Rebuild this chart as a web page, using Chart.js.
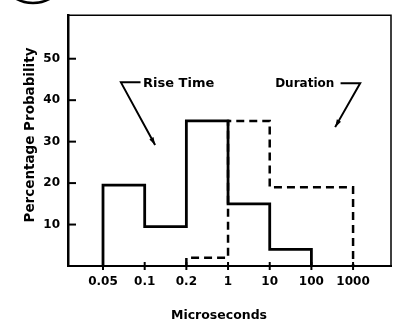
<!DOCTYPE html>
<html>
<head>
<meta charset="utf-8">
<script src="https://cdn.jsdelivr.net/npm/chart.js@4/dist/chart.umd.min.js"></script>
<style>
html,body{margin:0;padding:0;background:#fff;}
#wrap{width:399px;height:332px;position:relative;}
</style>
</head>
<body>
<div id="wrap"><canvas id="c" width="399" height="332"></canvas></div>
<script>
// Categories (equally spaced on the x axis)
const tickLabels = ["0.05", "0.1", "0.2", "1", "10", "100", "1000"];
// Rise Time histogram: bin edges (category index) and percentage
const riseEdges = [0, 0, 1, 2, 3, 4, 5];
const riseValues = [0, 19.5, 9.5, 35, 15, 4, 0];
// Duration histogram
const durEdges = [2, 2, 3, 4, 6];
const durValues = [0, 2, 35, 19, 0];
const yTicks = [10, 20, 30, 40, 50];

const FONT = "'DejaVu Sans', sans-serif";

const toPts = (xs, ys) => xs.map((x, i) => ({x: x, y: ys[i]}));

const decor = {
  id: 'decor',
  afterDraw(chart) {
    const ctx = chart.ctx, a = chart.chartArea;
    const xs = chart.scales.x, ys = chart.scales.y;
    ctx.save();
    ctx.strokeStyle = '#000';
    ctx.fillStyle = '#000';
    // frame top & right
    ctx.lineWidth = 1.5;
    ctx.beginPath();
    ctx.moveTo(a.left, a.top);
    ctx.lineTo(a.right, a.top);
    ctx.lineTo(a.right, a.bottom);
    ctx.stroke();
    // y ticks (inward)
    ctx.lineWidth = 2;
    yTicks.forEach(v => {
      const py = ys.getPixelForValue(v);
      ctx.beginPath(); ctx.moveTo(a.left, py); ctx.lineTo(a.left + 8, py); ctx.stroke();
    });
    // x ticks (crossing)
    tickLabels.forEach((l, i) => {
      const px = xs.getPixelForValue(i);
      ctx.beginPath(); ctx.moveTo(px, a.bottom - 4); ctx.lineTo(px, a.bottom + 4); ctx.stroke();
    });
    // annotations
    const P = (x, y) => [xs.getPixelForValue(x), ys.getPixelForValue(y)];
    ctx.textBaseline = 'middle';
    ctx.textAlign = 'left';
    ctx.font = "bold 13px " + FONT;
    let t = P(0.96, 43.9);
    ctx.fillText("Rise Time", t[0], t[1]);
    ctx.font = "bold 12px " + FONT;
    t = P(4.13, 43.9);
    ctx.fillText("Duration", t[0], t[1]);
    function arrow(pts) {
      ctx.lineWidth = 2;
      ctx.beginPath();
      pts.forEach((p, i) => { const q = P(p[0], p[1]); if (i) ctx.lineTo(q[0], q[1]); else ctx.moveTo(q[0], q[1]); });
      ctx.stroke();
      const e = P(pts[pts.length - 1][0], pts[pts.length - 1][1]);
      const s = P(pts[pts.length - 2][0], pts[pts.length - 2][1]);
      const ang = Math.atan2(e[1] - s[1], e[0] - s[0]);
      ctx.beginPath();
      ctx.moveTo(e[0], e[1]);
      ctx.lineTo(e[0] - 8 * Math.cos(ang - 0.3), e[1] - 8 * Math.sin(ang - 0.3));
      ctx.lineTo(e[0] - 8 * Math.cos(ang + 0.3), e[1] - 8 * Math.sin(ang + 0.3));
      ctx.closePath(); ctx.fill();
    }
    arrow([[0.9, 44.3], [0.43, 44.3], [1.25, 29.2]]);
    arrow([[5.7, 44.1], [6.17, 44.1], [5.57, 33.5]]);
    // axis titles
    ctx.font = "bold 12.5px " + FONT;
    ctx.textAlign = 'center';
    ctx.fillText("Microseconds", 219, 316);
    ctx.save();
    ctx.translate(30, 135);
    ctx.rotate(-Math.PI / 2);
    ctx.font = "bold 13.5px " + FONT;
    ctx.fillText("Percentage Probability", 0, 0);
    ctx.restore();
    // partial figure circle at top-left
    ctx.lineWidth = 2.5;
    ctx.beginPath();
    ctx.ellipse(33, -22, 30, 25, 0, 0, Math.PI * 2);
    ctx.stroke();
    ctx.restore();
  }
};

new Chart(document.getElementById('c'), {
  type: 'line',
  data: {
    datasets: [
      {
        label: 'Rise Time',
        data: toPts(riseEdges, riseValues),
        stepped: 'before',
        borderColor: '#000',
        borderWidth: 2.8,
        pointRadius: 0,
        fill: false
      },
      {
        label: 'Duration',
        data: toPts(durEdges, durValues),
        stepped: 'before',
        borderColor: '#000',
        borderWidth: 2.5,
        borderDash: [8, 5],
        pointRadius: 0,
        fill: false
      }
    ]
  },
  options: {
    responsive: false,
    animation: false,
    layout: {padding: {left: 0, right: 8, top: 15, bottom: 0}},
    plugins: {legend: {display: false}, tooltip: {enabled: false}},
    scales: {
      x: {
        type: 'linear',
        min: -0.84,
        max: 6.91,
        afterBuildTicks: s => { s.ticks = tickLabels.map((l, i) => ({value: i})); },
        afterFit: s => { s.height = 66; },
        grid: {display: false, drawTicks: false, tickLength: 0},
        border: {display: true, color: '#000', width: 2},
        ticks: {
          color: '#000',
          font: {family: FONT, size: 12, weight: 'bold'},
          padding: 9,
          maxRotation: 0,
          autoSkip: false,
          callback: v => tickLabels[v]
        }
      },
      y: {
        type: 'linear',
        min: 0,
        max: 60.5,
        afterBuildTicks: s => { s.ticks = yTicks.map(v => ({value: v})); },
        afterFit: s => { s.width = 68; },
        grid: {display: false, drawTicks: false, tickLength: 0},
        border: {display: true, color: '#000', width: 2.5},
        ticks: {
          color: '#000',
          font: {family: FONT, size: 12, weight: 'bold'},
          padding: 8
        }
      }
    }
  },
  plugins: [decor]
});
</script>
</body>
</html>
